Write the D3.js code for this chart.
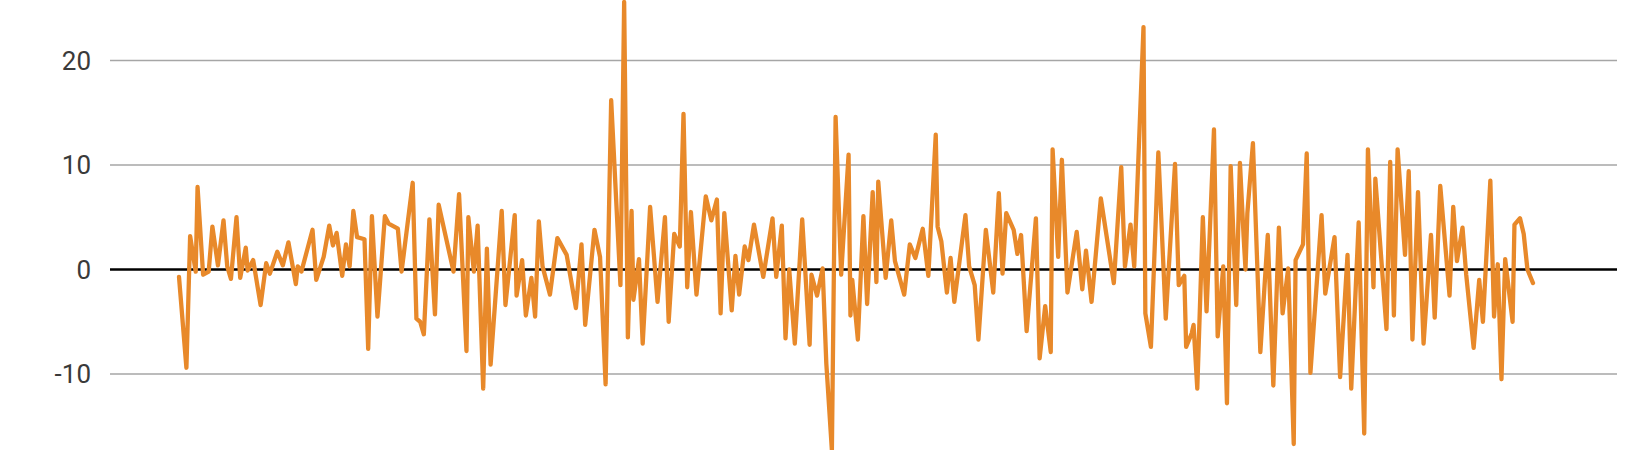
<!DOCTYPE html>
<html><head><meta charset="utf-8">
<script src="https://cdn.jsdelivr.net/npm/d3@7/dist/d3.min.js"></script>
<style>html,body{margin:0;padding:0;background:#fff;}svg{display:block;}</style>
</head><body>
<svg id="chart" width="1650" height="450"></svg>
<script>
const days = [0,4,6,9,10,13,16,18,21,24,26,28,31,33,36,37,40,44,47,49,
53,56,59,63,64,66,72,74,78,81,83,85,88,90,92,94,96,100,102,104,107,
111,113,118,120,126,128,130,132,135,138,140,148,151,155,156,159,161,164,166,168,
174,176,181,182,185,187,190,192,194,196,200,204,209,214,217,219,224,
227,230,233,238,240,242,244,245,248,250,254,258,262,264,267,270,272,274,276,279,284,
287,290,292,294,298,300,302,305,307,310,315,320,322,325,327,329,332,336,340,
341,344,347,349,352,354,357,361,362,363,366,369,371,374,376,377,381,384,386,391,394,397,
401,404,408,409,411,414,416,418,424,426,429,431,435,439,442,444,446,450,452,454,
457,462,464,467,470,471,474,476,479,484,487,489,492,497,504,508,510,
513,515,520,521,524,528,532,537,539,542,543,546,547,549,552,554,558,560,563,565,567,
570,572,574,575,576,579,583,587,590,593,595,598,601,602,606,608,610,616,618,623,
626,630,632,636,639,641,644,645,651,653,655,657,661,663,665,668,671,675,677,680,
685,687,689,692,694,698,701,703,707,709,711,713,715,719,720,723,725,727,730];
const values = [-0.7,-9.4,3.2,-0.2,7.9,-0.5,-0.2,4.1,0.4,4.7,0.3,-0.9,5.0,-0.8,2.1,-0.1,0.9,-3.4,0.6,-0.4,
1.7,0.4,2.6,-1.4,0.3,-0.2,3.8,-1.0,1.2,4.2,2.3,3.5,-0.6,2.4,0.3,5.6,3.1,2.9,-7.6,5.1,-4.5,
5.1,4.4,3.9,-0.2,8.3,-4.7,-5.0,-6.2,4.8,-4.3,6.2,-0.2,7.2,-7.8,5.0,-0.2,4.2,-11.4,2.0,-9.1,
5.6,-3.4,5.2,-2.5,0.9,-4.4,-0.8,-4.5,4.6,0.3,-2.4,3.0,1.4,-3.7,2.4,-5.3,3.8,
1.2,-11.0,16.2,-1.5,25.6,-6.5,5.6,-2.9,1.0,-7.1,6.0,-3.1,5.0,-5.0,3.4,2.2,14.9,-1.7,5.5,-2.4,7.0,
4.7,6.7,-4.2,5.4,-3.9,1.3,-2.4,2.2,0.9,4.3,-0.7,4.9,-0.7,4.2,-6.6,0.0,-7.1,4.8,-7.2,
-0.5,-2.5,0.1,-9.0,-17.3,14.6,-0.5,11.0,-4.4,-1.0,-6.7,5.1,-3.3,7.4,-1.2,8.4,-0.8,4.7,0.8,-2.4,2.4,1.1,
3.9,-0.6,12.9,4.1,2.7,-2.2,1.1,-3.1,5.2,0.3,-1.5,-6.7,3.8,-2.2,7.3,-0.4,5.4,3.8,1.5,3.3,
-5.9,4.9,-8.5,-3.5,-7.9,11.5,1.2,10.5,-2.2,3.6,-1.9,1.8,-3.1,6.8,-1.3,9.8,0.3,
4.3,0.3,23.2,-4.2,-7.4,11.2,-4.7,10.1,-1.5,-0.6,-7.4,-6.1,-5.3,-11.4,5.0,-4.0,13.4,-6.4,0.3,-12.8,9.9,
-3.4,10.2,3.1,0.0,5.4,12.1,-7.9,3.3,-11.1,4.0,-4.2,0.1,-16.7,0.9,2.4,11.1,-9.9,5.2,-2.3,3.1,
-10.3,1.4,-11.4,4.5,-15.7,11.5,-1.7,8.7,-5.7,10.3,-4.4,11.5,1.4,9.4,-6.7,7.4,-7.1,3.3,-4.6,8.0,
-2.5,6.0,0.8,4.0,-0.5,-7.5,-1.0,-5.0,8.5,-4.5,0.5,-10.5,1.0,-5.0,4.3,4.9,3.4,0.0,-1.3];
const yTicks = [-10, 0, 10, 20];
const yTickLabels = ["-10", "0", "10", "20"];

const svg = d3.select("#chart");
const x = d3.scaleLinear().domain([0, 730]).range([179, 1533]);
const y = d3.scaleLinear().domain([-10, 20]).range([374, 60.5]);
const gridLeft = 110, gridRight = 1617;

// gridlines
svg.append("g").selectAll("line").data(yTicks.filter(t => t !== 0)).join("line")
  .attr("x1", gridLeft).attr("x2", gridRight)
  .attr("y1", d => y(d)).attr("y2", d => y(d))
  .attr("stroke", "#a6a6a6").attr("stroke-width", 1.3);

// zero line
svg.append("line")
  .attr("x1", gridLeft).attr("x2", gridRight)
  .attr("y1", y(0)).attr("y2", y(0))
  .attr("stroke", "#000").attr("stroke-width", 2.6);

// y labels
svg.append("g").selectAll("text").data(yTicks).join("text")
  .attr("x", 91).attr("y", d => y(d)).attr("dy", "0.36em")
  .attr("text-anchor", "end")
  .attr("font-family", "Roboto, 'Noto Sans', sans-serif")
  .attr("font-size", 26)
  .attr("fill", "#3a3a3a")
  .text((d, i) => yTickLabels[i]);

// line
const pts = days.map((d, i) => [d, values[i]]);
const line = d3.line().x(d => x(d[0])).y(d => y(d[1]));
svg.append("path").datum(pts)
  .attr("d", line)
  .attr("fill", "none")
  .attr("stroke", "#E8892A")
  .attr("stroke-width", 4.3)
  .attr("stroke-linejoin", "round")
  .attr("stroke-linecap", "round");
</script>
</body></html>
